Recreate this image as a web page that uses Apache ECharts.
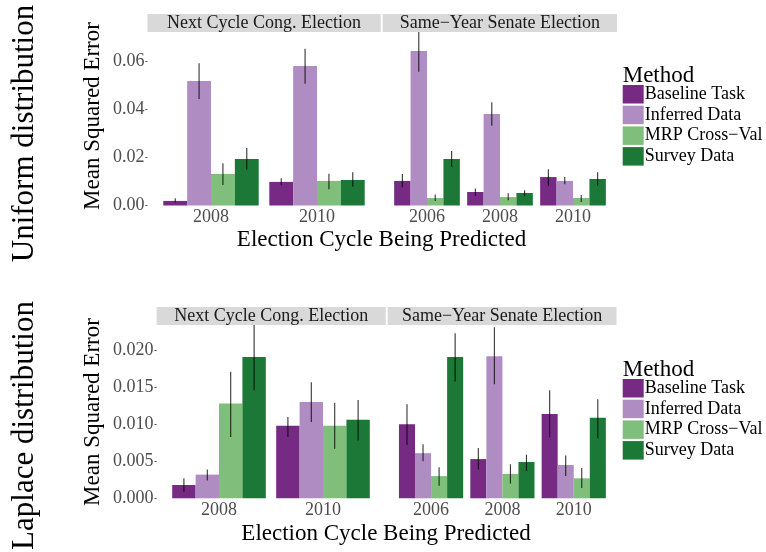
<!DOCTYPE html>
<html>
<head>
<meta charset="utf-8">
<script src="https://cdn.jsdelivr.net/npm/echarts@6/dist/echarts.min.js"></script>
<style>html,body{margin:0;padding:0;background:#fff;}#c{width:766px;height:552px;}</style>
</head>
<body>
<div id="c"></div>
<script>
const methods = ['Baseline Task', 'Inferred Data', 'MRP Cross\u2212Val', 'Survey Data'];
const colors = ['#762a83', '#af8dc3', '#7fbf7b', '#1b7837'];
const congYears = ['2008', '2010'];
const senateYears = ['2006', '2008', '2010'];
const stripLabels = ['Next Cycle Cong. Election', 'Same\u2212Year Senate Election'];
const rowLabels = ['Uniform distribution', 'Laplace distribution'];
const uniformTicks = [0, 0.02, 0.04, 0.06];
const laplaceTicks = [0, 0.005, 0.01, 0.015, 0.02];

// rows = methods, columns = years
const uniCongMean = [[0.0019, 0.0098], [0.0517, 0.0579], [0.0131, 0.0102], [0.0193, 0.0106]];
const uniCongLo   = [[0.0012, 0.0084], [0.0442, 0.0505], [0.0085, 0.0067], [0.0149, 0.0078]];
const uniCongHi   = [[0.0030, 0.0113], [0.0590, 0.0650], [0.0175, 0.0132], [0.0239, 0.0138]];

const uniSenMean = [[0.0102, 0.0056, 0.0118], [0.0641, 0.0380, 0.0102], [0.0031, 0.0035, 0.0031], [0.0193, 0.0052, 0.0110]];
const uniSenLo   = [[0.0076, 0.0039, 0.0082], [0.0555, 0.0331, 0.0088], [0.0019, 0.0022, 0.0015], [0.0161, 0.0038, 0.0082]];
const uniSenHi   = [[0.0131, 0.0071, 0.0150], [0.0730, 0.0428, 0.0118], [0.0046, 0.0051, 0.0044], [0.0226, 0.0063, 0.0138]];

const lapCongMean = [[0.0018, 0.0098], [0.0032, 0.0130], [0.0128, 0.0098], [0.0191, 0.0106]];
const lapCongLo   = [[0.0009, 0.0083], [0.0024, 0.0103], [0.0083, 0.0067], [0.0146, 0.0078]];
const lapCongHi   = [[0.0027, 0.0110], [0.0039, 0.0157], [0.0171, 0.0129], [0.0240, 0.0133]];

const lapSenMean = [[0.0100, 0.0053, 0.0114], [0.0061, 0.0192, 0.0045], [0.0030, 0.0033, 0.0027], [0.0191, 0.0049, 0.0109]];
const lapSenLo   = [[0.0072, 0.0039, 0.0082], [0.0050, 0.0154, 0.0030], [0.0017, 0.0020, 0.0014], [0.0158, 0.0037, 0.0081]];
const lapSenHi   = [[0.0127, 0.0068, 0.0146], [0.0073, 0.0231, 0.0058], [0.0042, 0.0046, 0.0041], [0.0223, 0.0059, 0.0134]];

const FONT = 'Liberation Serif';

const panels = [
  {grid: {left: 158, top: 32, width: 212, height: 173.5}, cats: congYears, mean: uniCongMean, lo: uniCongLo, hi: uniCongHi, yMax: 0.072, interval: 0.02, showY: true, yOffset: 10.6, labelMargin: 3, fmt: v => v.toFixed(2)},
  {grid: {left: 390.5, top: 32, width: 219, height: 173.5}, cats: senateYears, mean: uniSenMean, lo: uniSenLo, hi: uniSenHi, yMax: 0.072, interval: 0.02, showY: false},
  {grid: {left: 167, top: 325, width: 208, height: 173.3}, cats: congYears, mean: lapCongMean, lo: lapCongLo, hi: lapCongHi, yMax: 0.02342, interval: 0.005, showY: true, yOffset: 10.4, labelMargin: 3, fmt: v => v.toFixed(3)},
  {grid: {left: 395.4, top: 325, width: 214, height: 173.3}, cats: senateYears, mean: lapSenMean, lo: lapSenLo, hi: lapSenHi, yMax: 0.02342, interval: 0.005, showY: false}
];

const grids = [], xAxes = [], yAxes = [], series = [];
panels.forEach((p, i) => {
  grids.push(Object.assign({containLabel: false}, p.grid));
  xAxes.push({
    type: 'category', gridIndex: i, data: p.cats,
    axisLine: {show: false}, axisTick: {show: false},
    axisLabel: {fontFamily: FONT, fontSize: 18, color: '#4d4d4d', margin: 3}
  });
  yAxes.push({
    type: 'value', gridIndex: i, min: 0, max: p.yMax, interval: p.interval,
    offset: p.showY ? p.yOffset : 0,
    splitLine: {show: false},
    axisLine: {show: false},
    axisTick: {show: p.showY, length: 2, lineStyle: {color: '#4d4d4d', width: 1}},
    axisLabel: {show: p.showY, showMaxLabel: false, fontFamily: FONT, fontSize: 18, color: '#4d4d4d', margin: p.labelMargin || 3,
      formatter: p.fmt || (v => v)}
  });
  methods.forEach((m, k) => {
    series.push({
      type: 'bar', name: m, xAxisIndex: i, yAxisIndex: i,
      data: p.mean[k], barGap: '0%', barCategoryGap: '10%',
      itemStyle: {color: colors[k]}, silent: true
    });
  });
  const errData = [];
  methods.forEach((m, k) => {
    p.cats.forEach((c, j) => errData.push([j, k, p.lo[k][j], p.hi[k][j]]));
  });
  series.push({
    type: 'custom', name: '_err' + i, xAxisIndex: i, yAxisIndex: i, clip: true, z: 5, silent: true,
    data: errData,
    encode: {x: 0, y: [2, 3]},
    renderItem: function (params, api) {
      const a = api.coord([api.value(0), api.value(2)]);
      const b = api.coord([api.value(0), api.value(3)]);
      const band = api.size([1, 0])[0];
      const bw = band * 0.9 / 4;
      const x = a[0] + (api.value(1) - 1.5) * bw;
      return {type: 'line', shape: {x1: x, y1: a[1], x2: x, y2: b[1]},
        style: {stroke: 'rgba(0,0,0,0.8)', lineWidth: 1.1}};
    }
  });
});

const strips = [
  {x1: 147.4, x2: 380.7, y: 14, text: stripLabels[0]},
  {x1: 382.7, x2: 617, y: 14, text: stripLabels[1]},
  {x1: 156.6, x2: 385.7, y: 307, text: stripLabels[0]},
  {x1: 387.7, x2: 616.5, y: 307, text: stripLabels[1]}
];
const graphics = [];
strips.forEach(s => {
  graphics.push({type: 'rect', shape: {x: s.x1, y: s.y, width: s.x2 - s.x1, height: 18}, style: {fill: '#d9d9d9'}, silent: true});
  graphics.push({type: 'text', x: (s.x1 + s.x2) / 2, y: s.y + 9.5, style: {text: s.text, font: '18px "' + FONT + '"', fill: '#1a1a1a', textAlign: 'center', textVerticalAlign: 'middle'}, silent: true});
});
// axis titles
[{yT: 116, yX: 240, xX: 381.5, yM: 76}, {yT: 412, yX: 534, xX: 386, yM: 370}].forEach((r, i) => {
  graphics.push({type: 'text', x: 93, y: r.yT, rotation: Math.PI / 2, style: {text: 'Mean Squared Error', font: '23px "' + FONT + '"', fill: '#000', textAlign: 'center', textVerticalAlign: 'middle'}, silent: true});
  graphics.push({type: 'text', x: r.xX, y: r.yX, style: {text: 'Election Cycle Being Predicted', font: '23px "' + FONT + '"', fill: '#000', textAlign: 'center', textVerticalAlign: 'middle'}, silent: true});
  graphics.push({type: 'text', x: 622.7, y: r.yM, style: {text: 'Method', font: '23px "' + FONT + '"', fill: '#000', textAlign: 'left', textVerticalAlign: 'middle'}, silent: true});
});
graphics.push({type: 'text', x: 25, y: 133.5, rotation: Math.PI / 2, style: {text: rowLabels[0], font: '31px "' + FONT + '"', fill: '#000', textAlign: 'center', textVerticalAlign: 'middle'}, silent: true});
graphics.push({type: 'text', x: 25, y: 425.5, rotation: Math.PI / 2, style: {text: rowLabels[1], font: '31px "' + FONT + '"', fill: '#000', textAlign: 'center', textVerticalAlign: 'middle'}, silent: true});

const legendBase = {
  orient: 'vertical', left: 622.7, itemWidth: 21, itemHeight: 18.5, itemGap: 2.2, icon: 'rect',
  data: methods, selectedMode: false, padding: 0,
  textStyle: {fontFamily: FONT, fontSize: 18, color: '#000', padding: [0, 0, 0, -4]}
};

const chart = echarts.init(document.getElementById('c'), null, {renderer: 'canvas'});
chart.setOption({
  backgroundColor: '#fff',
  animation: false,
  grid: grids,
  xAxis: xAxes,
  yAxis: yAxes,
  legend: [Object.assign({top: 85}, legendBase), Object.assign({top: 379}, legendBase)],
  graphic: graphics,
  series: series
});
</script>
</body>
</html>
